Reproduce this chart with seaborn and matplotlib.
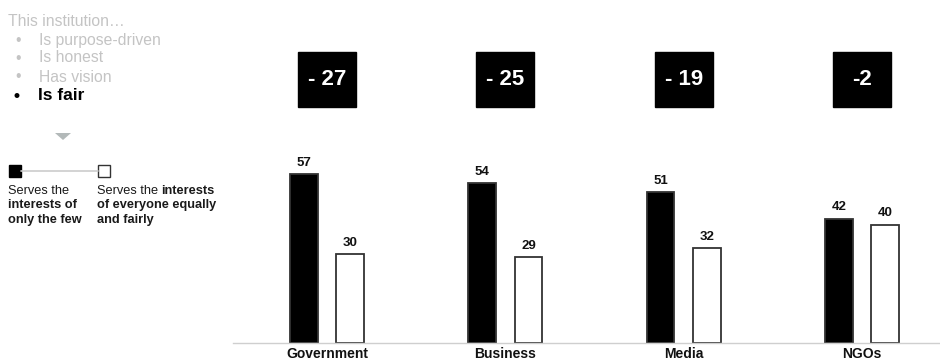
import matplotlib
matplotlib.use("Agg")
import matplotlib.pyplot as plt
import seaborn as sns
import pandas as pd
from matplotlib.patches import Rectangle, Polygon
from matplotlib.lines import Line2D

categories = ["Government", "Business", "Media", "NGOs"]
few_values = [57, 54, 51, 42]
everyone_values = [30, 29, 32, 40]
diff_labels = ["- 27", "- 25", "- 19", "-2"]
series_names = ["Serves the interests of only the few",
                "Serves the interests of everyone equally and fairly"]

df = pd.DataFrame({
    "institution": categories * 2,
    "series": [series_names[0]] * 4 + [series_names[1]] * 4,
    "value": few_values + everyone_values,
})

sns.set_theme(style="white")
plt.rcParams["font.family"] = ["Liberation Sans", "DejaVu Sans"]

W, H = 940, 363
fig = plt.figure(figsize=(W / 100, H / 100), dpi=100)
ax = fig.add_axes([233 / W, 20 / H, 707 / W, 343 / H])

sns.barplot(data=df, x="institution", y="value", hue="series", order=categories,
            hue_order=series_names, palette=["black", "white"], width=0.52, gap=0.4,
            edgecolor="#333333", linewidth=1.3, legend=False, ax=ax)

for cont in ax.containers:
    ax.bar_label(cont, fmt="%d", padding=4, fontsize=9.5, fontweight="bold", color="#111111")

ax.set_xlim(-0.528, 3.438)
ax.set_ylim(0, 115.9)
ax.set_xlabel("")
ax.set_ylabel("")
ax.set_yticks([])
ax.tick_params(axis="x", length=0, pad=3)
for lab in ax.get_xticklabels():
    lab.set_fontweight("bold")
    lab.set_fontsize(10)
    lab.set_color("#111111")
for s in ["left", "right", "top"]:
    ax.spines[s].set_visible(False)
ax.spines["bottom"].set_color("#cfcfcf")
ax.spines["bottom"].set_linewidth(1.0)

# difference boxes
bw, bh = 0.325, 18.6
for i, lab in enumerate(diff_labels):
    ax.add_patch(Rectangle((i - bw / 2, 89.1 - bh / 2), bw, bh, facecolor="black",
                           edgecolor="black", clip_on=False, zorder=3))
    ax.text(i, 89.1, lab, ha="center", va="center", color="white", fontsize=16,
            fontweight="bold", zorder=4)

# left panel in pixel coordinates
def fx(x):
    return x / W

def fy(y):
    return 1 - y / H

gray = "#c4c4c4"
fs1 = 11.3
fig.text(fx(8), fy(21), "This institution…", color=gray, fontsize=fs1, va="center")
items = [("Is purpose-driven", 40), ("Is honest", 58), ("Has vision", 77)]
for t, y in items:
    fig.text(fx(15), fy(y), "•", color=gray, fontsize=fs1, va="center")
    fig.text(fx(39), fy(y), t, color=gray, fontsize=fs1, va="center")
fig.text(fx(14), fy(96), "•", color="black", fontsize=12.5, va="center", fontweight="bold")
fig.text(fx(38), fy(96), "Is fair", color="black", fontsize=12.5, va="center", fontweight="bold")

fig.patches.append(Polygon([(fx(55), fy(133)), (fx(71), fy(133)), (fx(63), fy(140))],
                           closed=True, transform=fig.transFigure, facecolor="#b3b9b9",
                           edgecolor="none"))

fig.lines.append(Line2D([fx(21), fx(98)], [fy(171), fy(171)], transform=fig.transFigure,
                        color="#cccccc", lw=1.2))
fig.patches.append(Rectangle((fx(9), fy(177)), 12 / W, 12 / H, transform=fig.transFigure,
                             facecolor="black", edgecolor="black"))
fig.patches.append(Rectangle((fx(98), fy(177)), 12 / W, 12 / H, transform=fig.transFigure,
                             facecolor="white", edgecolor="#333333", lw=1.0))

tc = "#1a1a1a"
fs = 9.2
fig.text(fx(8), fy(191), "Serves the", color=tc, fontsize=fs, va="center")
fig.text(fx(8), fy(205), "interests of", color=tc, fontsize=fs, va="center", fontweight="bold")
fig.text(fx(8), fy(220), "only the few", color=tc, fontsize=fs, va="center", fontweight="bold")
fig.text(fx(97), fy(191), "Serves the", color=tc, fontsize=fs, va="center")
fig.text(fx(161), fy(191), "interests", color=tc, fontsize=fs, va="center", fontweight="bold")
fig.text(fx(97), fy(205), "of everyone equally", color=tc, fontsize=fs, va="center", fontweight="bold")
fig.text(fx(97), fy(220), "and fairly", color=tc, fontsize=fs, va="center", fontweight="bold")

fig.savefig("out.png", dpi=100, facecolor="white")
